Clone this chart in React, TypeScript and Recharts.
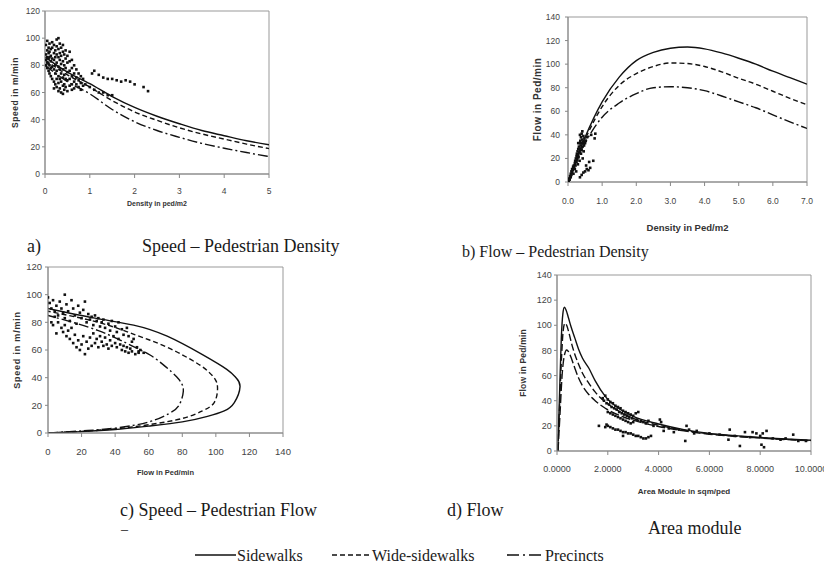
import { ComposedChart, Line, Scatter, XAxis, YAxis, ReferenceArea } from "recharts";

// ---- a) Speed – Pedestrian Density
const densityA = [0, 0.5, 1, 1.5, 2, 2.5, 3, 3.5, 4, 4.5, 5];
const sidewalkSpeedA = [86, 75, 66.5, 57, 49, 42.5, 37, 32, 28.2, 24.5, 21.5];
const wideSpeedA = [84, 73, 64, 54, 45.7, 39.5, 34, 29.5, 25.7, 22, 18.7];
const precinctSpeedA = [80, 68, 59, 47.5, 38.5, 32, 27, 22.5, 19, 15.8, 12.8];
const observedA: [number, number][] = [
  [0.02, 95], [0.02, 88], [0.02, 84], [0.02, 80], [0.05, 98], [0.05, 91], [0.05, 86], [0.05, 82], [0.05, 78],
  [0.08, 93], [0.08, 89], [0.08, 85], [0.08, 81], [0.08, 76], [0.1, 96], [0.1, 90], [0.1, 86], [0.1, 80], [0.1, 74],
  [0.13, 92], [0.13, 87], [0.13, 83], [0.13, 78], [0.13, 72], [0.16, 97], [0.16, 93], [0.16, 85], [0.16, 79], [0.16, 70],
  [0.2, 95], [0.2, 89], [0.2, 84], [0.2, 77], [0.2, 68], [0.2, 63], [0.23, 91], [0.23, 86], [0.23, 80], [0.23, 74], [0.23, 66],
  [0.26, 99], [0.26, 94], [0.26, 88], [0.26, 82], [0.26, 76], [0.26, 70], [0.26, 64],
  [0.3, 100], [0.3, 92], [0.3, 86], [0.3, 79], [0.3, 72], [0.3, 67], [0.3, 61],
  [0.33, 96], [0.33, 89], [0.33, 84], [0.33, 77], [0.33, 70], [0.33, 63], [0.36, 93], [0.36, 87], [0.36, 81], [0.36, 74], [0.36, 68], [0.36, 60],
  [0.4, 95], [0.4, 90], [0.4, 83], [0.4, 77], [0.4, 71], [0.4, 65], [0.4, 59], [0.43, 88], [0.43, 80], [0.43, 73], [0.43, 66], [0.43, 62],
  [0.46, 91], [0.46, 85], [0.46, 78], [0.46, 70], [0.46, 64], [0.5, 87], [0.5, 82], [0.5, 75], [0.5, 69], [0.5, 61],
  [0.55, 90], [0.55, 83], [0.55, 76], [0.55, 70], [0.55, 65], [0.6, 84], [0.6, 78], [0.6, 72], [0.6, 66], [0.6, 62],
  [0.65, 80], [0.65, 74], [0.65, 68], [0.65, 63], [0.7, 77], [0.7, 71], [0.7, 66], [0.75, 74], [0.75, 69], [0.75, 64],
  [0.8, 72], [0.8, 67], [0.8, 62], [0.85, 70], [0.85, 65],
  [1.05, 74], [1.1, 76], [1.2, 73], [1.3, 71], [1.4, 70], [1.5, 70], [1.6, 69], [1.7, 68], [1.8, 69], [1.9, 68], [2.0, 66], [2.2, 64], [2.3, 61],
  [0.9, 66], [1.0, 64], [1.1, 62], [1.2, 60], [1.3, 60], [1.4, 58], [1.5, 58],
];

// ---- b) Flow – Pedestrian Density
const densityB = [0, 0.5, 1, 1.5, 2, 2.5, 3, 3.5, 4, 4.5, 5, 5.5, 6, 6.5, 7];
const sidewalkFlowB = [0, 38, 68, 89, 103, 110, 113.5, 114.5, 113, 109.5, 105, 100, 94, 88.5, 83];
const wideFlowB = [0, 36, 64, 82, 92, 98, 101, 100.5, 98, 93.5, 88, 83, 77, 71, 65.5];
const precinctFlowB = [0, 33, 55, 67, 75, 80, 80.8, 80, 77.5, 73, 68, 63, 57, 51, 45.5];
const observedB: [number, number][] = [
  [0.02, 1], [0.04, 3], [0.05, 2], [0.06, 5], [0.08, 4], [0.08, 7], [0.1, 6], [0.1, 9], [0.12, 8], [0.12, 11],
  [0.14, 10], [0.15, 13], [0.16, 7], [0.17, 14], [0.18, 12], [0.2, 16], [0.2, 11], [0.21, 18], [0.22, 14], [0.23, 20],
  [0.24, 9], [0.25, 17], [0.25, 22], [0.26, 24], [0.27, 19], [0.28, 26], [0.29, 15], [0.3, 23], [0.3, 28], [0.31, 21],
  [0.32, 30], [0.33, 25], [0.34, 33], [0.34, 18], [0.35, 28], [0.36, 35], [0.37, 31], [0.38, 24], [0.38, 38], [0.39, 33],
  [0.4, 41], [0.4, 27], [0.41, 36], [0.42, 30], [0.42, 43], [0.43, 20], [0.44, 34], [0.45, 39], [0.46, 26], [0.47, 31],
  [0.48, 37], [0.5, 33], [0.5, 9], [0.52, 35], [0.53, 14], [0.55, 11], [0.56, 38], [0.6, 10], [0.62, 17], [0.65, 12],
  [0.68, 40], [0.74, 18], [0.78, 37], [0.8, 41], [0.35, 4], [0.4, 6], [0.45, 8], [0.3, 33], [0.35, 40],
];

// ---- c) Speed – Pedestrian Flow (traced from the origin round the nose to the top)
const sidewalkFlowC = [0, 20, 40, 60, 80, 95, 105, 111, 114.4, 112, 106.5, 91.5, 71, 51, 28, 0];
const sidewalkSpeedC = [0, 1, 2.5, 5, 8, 12, 16, 22, 33.5, 40, 46, 57, 70, 78, 83, 90];
const wideFlowC = [0, 20, 40, 60, 80, 92, 99, 101, 99.5, 95, 88, 71, 52, 30, 0];
const wideSpeedC = [0, 1.2, 3, 6, 10.5, 16, 22, 32, 39, 45, 51, 62, 71, 80, 88];
const precinctFlowC = [0, 20, 40, 60, 72, 78, 80.6, 79.5, 76.6, 70, 60.8, 50, 30, 0];
const precinctSpeedC = [0, 1.5, 3.5, 8, 14, 20, 30, 36, 40.7, 48, 56.4, 63, 74, 85];
const observedC: [number, number][] = [
  [0, 98], [1, 94], [2, 90], [3, 96], [4, 88], [5, 92], [6, 85], [7, 95], [8, 90], [9, 87], [10, 100], [10, 83],
  [11, 93], [12, 88], [13, 81], [14, 96], [15, 90], [16, 85], [17, 79], [18, 92], [19, 87], [20, 83], [21, 89], [22, 95],
  [23, 80], [24, 86], [25, 82], [26, 84], [27, 78], [28, 85], [29, 81], [30, 83], [31, 77], [32, 80], [33, 82], [34, 76],
  [36, 79], [37, 74], [38, 81], [40, 77], [41, 73], [42, 80], [44, 75], [45, 71], [47, 76], [48, 70], [50, 66], [51, 68],
  [53, 62], [54, 59], [55, 60], [57, 58],
  [2, 80], [3, 78], [4, 84], [5, 72], [6, 80], [8, 76], [9, 73], [10, 78], [11, 70], [12, 74], [13, 68], [14, 76],
  [15, 65], [16, 71], [17, 62], [18, 67], [19, 60], [20, 64], [21, 70], [22, 57], [23, 66], [24, 61], [25, 69], [26, 63],
  [27, 72], [28, 65], [29, 68], [30, 62], [31, 70], [32, 66], [33, 63], [34, 69], [35, 64], [36, 61], [37, 67], [38, 63],
  [39, 70], [40, 65], [41, 62], [42, 68], [43, 64], [44, 60], [45, 63], [46, 59], [47, 62], [48, 58], [49, 61], [50, 59],
  [52, 57], [54, 58],
];

// ---- d) Flow – Area module
const sidewalkModuleD = [0.03, 0.1, 0.17, 0.23, 0.29, 0.36, 0.45, 0.55, 0.7, 0.85, 1, 1.25, 1.5, 1.9, 2.5, 3, 4, 5, 6, 7, 8, 9, 10];
const sidewalkFlowD = [0, 45, 90, 109, 114.3, 112, 106, 99, 90, 81, 74, 66, 56, 43.5, 33, 27.5, 21.5, 17, 14, 12.2, 10.7, 9.5, 8.5];
const wideModuleD = [0.03, 0.1, 0.18, 0.24, 0.31, 0.38, 0.47, 0.58, 0.7, 0.85, 1, 1.25, 1.5, 1.9, 2.5, 3, 4, 5, 6, 7, 8, 9, 10];
const wideFlowD = [0, 35, 75, 95, 101.6, 100, 94, 85, 77, 69, 62, 54, 47, 39, 31, 26, 20.5, 16.5, 13.7, 11.9, 10.5, 9.3, 8.3];
const precinctModuleD = [0.04, 0.12, 0.2, 0.28, 0.38, 0.47, 0.58, 0.7, 0.85, 1, 1.25, 1.5, 1.9, 2.5, 3, 4, 5, 6, 7, 8, 9, 10];
const precinctFlowD = [0, 30, 60, 75, 80.4, 78.5, 73, 66, 58, 52, 45, 40, 34, 28, 24.5, 19.5, 16, 13.3, 11.6, 10.3, 9.1, 8.2];
const observedD: [number, number][] = [
  [1.8, 42], [1.85, 40], [1.9, 44], [1.95, 38], [2.0, 41], [2.05, 37], [2.1, 39], [2.15, 35], [2.2, 38], [2.25, 34],
  [2.3, 36], [2.35, 33], [2.4, 35], [2.45, 31], [2.5, 34], [2.55, 30], [2.6, 32], [2.65, 29], [2.7, 31], [2.75, 28],
  [2.8, 30], [2.85, 27], [2.9, 29], [2.95, 26], [3.0, 28], [3.1, 30], [3.2, 31], [3.15, 25], [3.3, 24], [3.4, 23], [3.5, 22],
  [2.0, 31], [2.1, 30], [2.2, 29], [2.3, 28], [2.4, 27], [2.5, 26], [2.6, 25], [2.7, 24], [2.8, 23], [2.9, 22], [3.0, 23],
  [1.65, 20], [1.9, 19], [1.95, 21], [2.0, 20], [2.1, 19], [2.2, 18], [2.3, 17], [2.4, 17], [2.5, 16], [2.6, 15],
  [2.7, 15], [2.8, 14], [2.9, 14], [3.0, 13], [3.1, 12], [3.2, 12], [3.3, 11], [3.4, 10], [3.5, 10], [3.6, 11], [3.7, 12], [2.6, 12],
  [3.6, 24], [3.8, 20], [4.05, 25], [4.1, 23], [4.2, 16], [4.4, 18], [4.6, 15], [4.8, 17], [5.1, 20], [5.05, 8], [5.2, 17],
  [5.4, 14], [5.5, 16], [6.0, 14], [6.4, 13], [6.8, 17], [6.75, 9], [7.0, 12], [7.2, 4], [7.4, 15], [7.6, 11], [7.7, 15],
  [7.85, 14], [8.0, 12], [8.05, 5], [8.15, 3], [8.1, 14], [8.25, 16], [8.5, 10], [8.8, 9], [9.0, 10], [9.3, 13], [9.5, 8], [9.8, 8],
];

const SANS = "'Liberation Sans', Arial, sans-serif";
const SERIF = "'Liberation Serif', 'Times New Roman', serif";
const DASHED = "5 3";
const DASH_DOT = "10 3 2 3";

const zip = (xs: number[], ys: number[]) => xs.map((x, i) => ({ x, y: ys[i] }));
const pts = (arr: [number, number][]) => arr.map(([x, y]) => ({ x, y }));

const Square = (p: any) => <rect x={p.cx - 1.3} y={p.cy - 1.3} width={2.6} height={2.6} fill="#111" />;

function Panel(props: any) {
  const p = props;
  return (
    <div style={{ position: "absolute", left: p.left, top: p.top }}>
      <ComposedChart width={p.width} height={p.height} margin={p.margin}>
        <XAxis
          type="number"
          dataKey="x"
          domain={p.xDomain}
          ticks={p.xTicks}
          interval={0}
          allowDataOverflow
          tickFormatter={p.xFmt}
          height={p.xAxisHeight}
          tickSize={4}
          tickMargin={p.xTickMargin}
          tick={{ fontSize: p.tickFont, fill: "#444", fontFamily: SANS }}
          tickLine={{ stroke: "#888" }}
          axisLine={{ stroke: "#888" }}
          label={{
            value: p.xLabel,
            position: "insideBottom",
            offset: p.xLabelOffset,
            style: { fontSize: p.xLabelFont, fontWeight: 700, fill: "#333", fontFamily: SANS },
          }}
        />
        <YAxis
          type="number"
          dataKey="y"
          domain={p.yDomain}
          ticks={p.yTicks}
          interval={0}
          allowDataOverflow
          width={p.yAxisWidth}
          tickSize={3}
          tickMargin={p.yTickMargin}
          tick={{ fontSize: p.tickFont, fill: "#444", fontFamily: SANS }}
          tickLine={{ stroke: "#888" }}
          axisLine={{ stroke: "#888" }}
          label={{
            value: p.yLabel,
            angle: -90,
            position: "insideLeft",
            offset: p.yLabelOffset,
            style: {
              textAnchor: "middle",
              fontSize: p.yLabelFont,
              fontWeight: 700,
              fill: "#333",
              letterSpacing: p.yLabelSpacing,
              fontFamily: SANS,
            },
          }}
        />
        <ReferenceArea
          x1={p.xDomain[0]}
          x2={p.xDomain[1]}
          y1={p.yDomain[0]}
          y2={p.yDomain[1]}
          fill="none"
          fillOpacity={0}
          stroke="#999"
        />
        <Scatter data={p.observed} shape={Square} isAnimationActive={false} />
        {p.curves.map((c: any, i: number) => (
          <Line
            key={i}
            data={c.data}
            dataKey="y"
            type={p.curveType}
            stroke="#111"
            strokeWidth={1.4}
            strokeDasharray={c.dash}
            dot={false}
            activeDot={false}
            isAnimationActive={false}
          />
        ))}
      </ComposedChart>
    </div>
  );
}

const caption = (text: string, left: number, cy: number, size = 18) => (
  <div
    style={{
      position: "absolute",
      left,
      top: cy - size / 2,
      fontFamily: SERIF,
      fontSize: size,
      lineHeight: `${size}px`,
      color: "#1a1a1a",
      whiteSpace: "nowrap",
    }}
  >
    {text}
  </div>
);

const legendItem = (label: string, x1: number, x2: number, dash?: string) => (
  <>
    <svg style={{ position: "absolute", left: x1, top: 553, overflow: "visible" }} width={x2 - x1} height={4}>
      <line x1={0} y1={2} x2={x2 - x1} y2={2} stroke="#111" strokeWidth={1.6} strokeDasharray={dash} />
    </svg>
    {caption(label, x2 + 1, 556, 16)}
  </>
);

export default function App() {
  return (
    <div style={{ position: "absolute", left: 0, top: 0, width: 824, height: 568, background: "#fff", overflow: "hidden" }}>
      <Panel
        left={0} top={0} width={290} height={225}
        margin={{ top: 11, right: 21, left: 0, bottom: 11 }}
        xDomain={[0, 5]} xTicks={[0, 1, 2, 3, 4, 5]}
        yDomain={[0, 120]} yTicks={[0, 20, 40, 60, 80, 100, 120]}
        xAxisHeight={40} yAxisWidth={45} xTickMargin={10} yTickMargin={2} tickFont={8.5}
        xLabel="Density in ped/m2" xLabelFont={7} xLabelOffset={8.5}
        yLabel="Speed in m/min" yLabelFont={8.5} yLabelSpacing={0.6} yLabelOffset={15}
        curveType="monotone"
        observed={pts(observedA)}
        curves={[
          { data: zip(densityA, sidewalkSpeedA) },
          { data: zip(densityA, wideSpeedA), dash: DASHED },
          { data: zip(densityA, precinctSpeedA), dash: DASH_DOT },
        ]}
      />
      <Panel
        left={520} top={0} width={304} height={235}
        margin={{ top: 17, right: 17, left: 0, bottom: 3 }}
        xDomain={[0, 7]} xTicks={[0, 1, 2, 3, 4, 5, 6, 7]} xFmt={(v: number) => v.toFixed(1)}
        yDomain={[0, 140]} yTicks={[0, 20, 40, 60, 80, 100, 120, 140]}
        xAxisHeight={50} yAxisWidth={48} xTickMargin={11.5} yTickMargin={5} tickFont={8.5}
        xLabel="Density in Ped/m2" xLabelFont={9.5} xLabelOffset={1}
        yLabel="Flow in Ped/min" yLabelFont={10} yLabelSpacing={0.5} yLabelOffset={17}
        curveType="monotone"
        observed={pts(observedB)}
        curves={[
          { data: zip(densityB, sidewalkFlowB) },
          { data: zip(densityB, wideFlowB), dash: DASHED },
          { data: zip(densityB, precinctFlowB), dash: DASH_DOT },
        ]}
      />
      <Panel
        left={0} top={255} width={300} height={225}
        margin={{ top: 12, right: 17, left: 0, bottom: 2 }}
        xDomain={[0, 140]} xTicks={[0, 20, 40, 60, 80, 100, 120, 140]}
        yDomain={[0, 120]} yTicks={[0, 20, 40, 60, 80, 100, 120]}
        xAxisHeight={45} yAxisWidth={48} xTickMargin={11} yTickMargin={3} tickFont={9.5}
        xLabel="Flow in Ped/min" xLabelFont={7.5} xLabelOffset={3.5}
        yLabel="Speed in m/min" yLabelFont={9} yLabelSpacing={0.8} yLabelOffset={17}
        curveType="natural"
        observed={pts(observedC)}
        curves={[
          { data: zip(sidewalkFlowC, sidewalkSpeedC) },
          { data: zip(wideFlowC, wideSpeedC), dash: DASHED },
          { data: zip(precinctFlowC, precinctSpeedC), dash: DASH_DOT },
        ]}
      />
      <Panel
        left={505} top={260} width={319} height={240}
        margin={{ top: 15, right: 13, left: 0, bottom: 5 }}
        xDomain={[0, 10]} xTicks={[0, 2, 4, 6, 8, 10]} xFmt={(v: number) => v.toFixed(4)}
        yDomain={[0, 140]} yTicks={[0, 20, 40, 60, 80, 100, 120, 140]}
        xAxisHeight={44} yAxisWidth={52} xTickMargin={10.5} yTickMargin={2.3} tickFont={9}
        xLabel="Area Module in sqm/ped" xLabelFont={8} xLabelOffset={1}
        yLabel="Flow in Ped/min" yLabelFont={8.5} yLabelSpacing={0.2} yLabelOffset={18}
        curveType="monotone"
        observed={pts(observedD)}
        curves={[
          { data: zip(sidewalkModuleD, sidewalkFlowD) },
          { data: zip(wideModuleD, wideFlowD), dash: "7 3" },
          { data: zip(precinctModuleD, precinctFlowD), dash: "9 3" },
        ]}
      />

      {caption("a)", 27, 246)}
      {caption("Speed \u2013 Pedestrian Density", 142, 246)}
      {caption("b) Flow \u2013 Pedestrian Density", 462, 252, 16)}
      {caption("c) Speed \u2013 Pedestrian Flow", 120, 510)}
      {caption("\u2013", 121, 530, 14)}
      {caption("d) Flow", 447, 510)}
      {caption("Area module", 648, 528)}

      {legendItem("Sidewalks", 195, 236)}
      {legendItem("Wide-sidewalks", 332, 371, "5 3")}
      {legendItem("Precincts", 507, 544, "12 4 2 4")}
    </div>
  );
}
